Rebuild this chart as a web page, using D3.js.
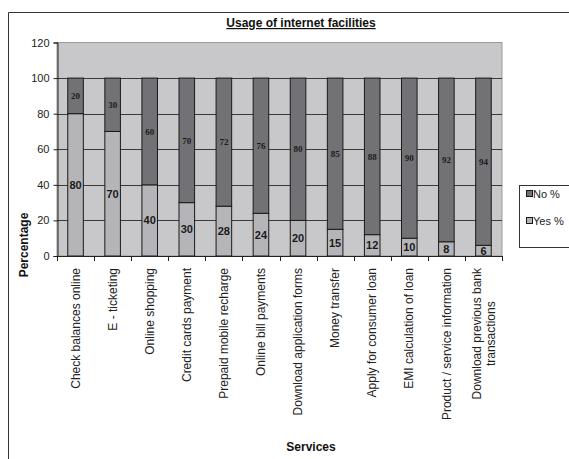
<!DOCTYPE html>
<html>
<head>
<meta charset="utf-8">
<script src="https://cdn.jsdelivr.net/npm/d3@7"></script>
<style>
  html, body { margin: 0; padding: 0; background: #fff; }
  svg { display: block; font-family: "Liberation Sans", Arial, sans-serif; }
</style>
</head>
<body>
<svg id="chart" width="569" height="459"></svg>
<script>
// Survey results: share of respondents using each internet banking facility
const services = [
  "Check balances online",
  "E - ticketing",
  "Online shopping",
  "Credit cards payment",
  "Prepaid mobile recharge",
  "Online bill payments",
  "Download application forms",
  "Money transfer",
  "Apply for consumer loan",
  "EMI calculation of loan",
  "Product / service information",
  "Download previous bank transactions"
];
const yesPct = [80, 70, 40, 30, 28, 24, 20, 15, 12, 10, 8, 6];
const noPct  = [20, 30, 60, 70, 72, 76, 80, 85, 88, 90, 92, 94];
const yTicks = [0, 20, 40, 60, 80, 100, 120];
const seriesNames = ["No %", "Yes %"];

const colors = { "Yes %": "#b5b5b9", "No %": "#727276" };

const svg = d3.select("#chart");
const plot = { left: 57, right: 502, top: 42.5, bottom: 256 };

// outer chart frame (runs off the right and bottom edges)
svg.append("path")
  .attr("d", "M8.5,459 V12.5 H569")
  .attr("fill", "none").attr("stroke", "#333").attr("stroke-width", 1);

const x = d3.scaleBand().domain(services).range([plot.left, plot.right]).paddingInner(0).paddingOuter(0);
const y = d3.scaleLinear().domain([0, 120]).range([plot.bottom, plot.top]);

// plot background
svg.append("rect")
  .attr("x", plot.left).attr("y", plot.top)
  .attr("width", plot.right - plot.left).attr("height", plot.bottom - plot.top)
  .attr("fill", "#c8c8ca").attr("stroke", "#9a9a9a").attr("stroke-width", 1);

// horizontal gridlines
svg.append("g").selectAll("line")
  .data(yTicks.filter(t => t > 0 && t < 120))
  .join("line")
  .attr("x1", plot.left).attr("x2", plot.right)
  .attr("y1", d => Math.round(y(d)) + 0.5).attr("y2", d => Math.round(y(d)) + 0.5)
  .attr("stroke", "#3a3a3a").attr("stroke-width", 1);

// stacked bars
const rows = services.map((s, i) => ({ service: s, "Yes %": yesPct[i], "No %": noPct[i] }));
const stack = d3.stack().keys(["Yes %", "No %"])(rows);
const barW = x.bandwidth() * 0.42;

const layers = svg.append("g").selectAll("g").data(stack).join("g")
  .attr("fill", d => colors[d.key]);

layers.selectAll("rect").data(d => d).join("rect")
  .attr("x", d => x(d.data.service) + (x.bandwidth() - barW) / 2)
  .attr("y", d => y(d[1]))
  .attr("width", barW)
  .attr("height", d => y(d[0]) - y(d[1]))
  .attr("stroke", "#1a1a1a").attr("stroke-width", 1);

// value labels
stack.forEach(layer => {
  const isYes = layer.key === "Yes %";
  svg.append("g").selectAll("text").data(layer).join("text")
    .attr("x", d => x(d.data.service) + x.bandwidth() / 2)
    .attr("y", d => (y(d[0]) + y(d[1])) / 2)
    .attr("dy", "0.35em")
    .attr("text-anchor", "middle")
    .attr("font-family", isYes ? "'Liberation Sans', Arial, sans-serif" : "'Liberation Serif', 'Times New Roman', serif")
    .attr("font-size", isYes ? 11 : 9)
    .attr("font-weight", "bold")
    .attr("fill", "#1a1a1a")
    .text(d => d[1] - d[0]);
});

// y axis
const yAxis = svg.append("g")
  .attr("transform", `translate(${plot.left + 0.5},0)`)
  .call(d3.axisLeft(y).tickValues(yTicks).tickSize(4).tickPadding(4));
yAxis.select(".domain").attr("stroke", "#222");
yAxis.selectAll(".tick line").attr("stroke", "#222");
yAxis.selectAll("text").attr("font-size", 11).attr("fill", "#222")
  .attr("font-family", "'Liberation Sans', Arial, sans-serif");

// x axis baseline with ticks at category boundaries
svg.append("line")
  .attr("x1", plot.left).attr("x2", plot.right)
  .attr("y1", plot.bottom + 0.5).attr("y2", plot.bottom + 0.5)
  .attr("stroke", "#222");
const bounds = services.map(s => x(s)).concat([plot.right]);
svg.append("g").selectAll("line").data(bounds).join("line")
  .attr("x1", d => Math.round(d) + 0.5).attr("x2", d => Math.round(d) + 0.5)
  .attr("y1", plot.bottom).attr("y2", plot.bottom + 5)
  .attr("stroke", "#222");

// category labels, rotated, with wrapping for the long one
const wrapLines = {
  "Download previous bank transactions": ["Download previous bank", "transactions"]
};
const labelTop = 268;
services.forEach(s => {
  const cx = x(s) + x.bandwidth() / 2;
  const lines = wrapLines[s] || [s];
  const g = svg.append("g");
  const lh = 14;
  const texts = lines.map((ln, k) => g.append("text")
    .attr("font-size", 12).attr("fill", "#222")
    .attr("font-family", "'Liberation Sans', Arial, sans-serif")
    .text(ln));
  const lens = texts.map(t => t.node().getComputedTextLength());
  const maxLen = d3.max(lens);
  const mid = labelTop + maxLen / 2;
  texts.forEach((t, k) => {
    const lx = cx + (k - (lines.length - 1) / 2) * lh;
    t.attr("text-anchor", "middle").attr("dy", "0.35em")
      .attr("transform", `translate(${lx},${mid}) rotate(-90)`);
  });
});

// title
svg.append("text")
  .attr("x", 301).attr("y", 27)
  .attr("text-anchor", "middle")
  .attr("font-size", 12).attr("font-weight", "bold")
  .attr("text-decoration", "underline")
  .attr("fill", "#111")
  .text("Usage of internet facilities");

// axis titles
svg.append("text")
  .attr("transform", "translate(24,245) rotate(-90)")
  .attr("text-anchor", "middle").attr("dy", "0.35em")
  .attr("font-size", 12).attr("font-weight", "bold").attr("fill", "#111")
  .text("Percentage");
svg.append("text")
  .attr("x", 311).attr("y", 451)
  .attr("text-anchor", "middle")
  .attr("font-size", 12).attr("font-weight", "bold").attr("fill", "#111")
  .text("Services");

// legend
const lg = svg.append("g");
lg.append("rect")
  .attr("x", 519.5).attr("y", 185.5).attr("width", 52).attr("height", 62)
  .attr("fill", "#fff").attr("stroke", "#333");
seriesNames.forEach((name, i) => {
  const ly = 194 + i * 27;
  lg.append("rect")
    .attr("x", 526.5).attr("y", ly - 3.5).attr("width", 6).attr("height", 6)
    .attr("fill", colors[name]).attr("stroke", "#1a1a1a");
  lg.append("text")
    .attr("x", 533).attr("y", ly).attr("dy", "0.35em")
    .attr("font-size", 11).attr("fill", "#222")
    .text(name);
});
</script>
</body>
</html>
